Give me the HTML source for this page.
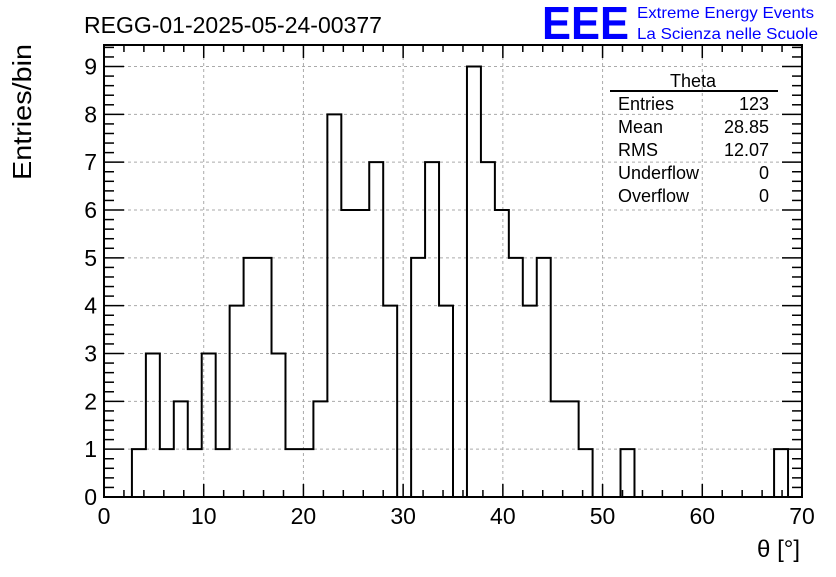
<!DOCTYPE html>
<html><head><meta charset="utf-8"><style>
body{margin:0;background:#fff}
svg text{font-family:"Liberation Sans",sans-serif}
</style></head><body>
<svg width="836" height="572" viewBox="0 0 836 572">
<rect width="836" height="572" fill="#fff"/>
<g id="grid"></g>
<g id="hist"></g>
<g id="axes"></g>
<text x="84" y="33" font-size="23">REGG-01-2025-05-24-00377</text>
<text x="542" y="39" font-size="46" font-weight="bold" fill="#0000ff" textLength="87" lengthAdjust="spacingAndGlyphs">EEE</text>
<text x="637" y="18" font-size="16" fill="#0000ff" textLength="177" lengthAdjust="spacingAndGlyphs">Extreme Energy Events</text>
<text x="637" y="39" font-size="16" fill="#0000ff" textLength="181" lengthAdjust="spacingAndGlyphs">La Scienza nelle Scuole</text>
<text transform="translate(31,180) rotate(-90)" font-size="26" textLength="136" lengthAdjust="spacingAndGlyphs">Entries/bin</text>
<text x="800" y="557" font-size="24" text-anchor="end">θ [°]</text>
<g font-size="18">
<text x="693" y="87" text-anchor="middle">Theta</text>
<line x1="610" y1="91" x2="778" y2="91" stroke="#000" stroke-width="2"/>
<text x="618" y="110">Entries</text><text x="769" y="110" text-anchor="end">123</text>
<text x="618" y="133">Mean</text><text x="769" y="133" text-anchor="end">28.85</text>
<text x="618" y="156">RMS</text><text x="769" y="156" text-anchor="end">12.07</text>
<text x="618" y="179">Underflow</text><text x="769" y="179" text-anchor="end">0</text>
<text x="618" y="202">Overflow</text><text x="769" y="202" text-anchor="end">0</text>
</g>
</svg>
<script>
const binCounts=[0,0,1,3,1,2,1,3,1,4,5,5,3,1,1,2,8,6,6,7,4,0,5,7,4,0,9,7,6,5,4,5,2,2,1,0,0,1,0,0,0,0,0,0,0,0,0,0,1,0];
const xTicks=[0,10,20,30,40,50,60,70];
const yTicks=[0,1,2,3,4,5,6,7,8,9];
const xMin=0,xMax=70,yMin=0,yMax=9.45;
const L=104,R=802,T=45,B=497;
const NS='http://www.w3.org/2000/svg';
function sx(v){return L+(v-xMin)/(xMax-xMin)*(R-L);}
function sy(v){return B-(v-yMin)/(yMax-yMin)*(B-T);}
function mk(tag,attrs,parent){const e=document.createElementNS(NS,tag);for(const k in attrs)e.setAttribute(k,attrs[k]);parent.appendChild(e);return e;}
const grid=document.getElementById('grid'),axes=document.getElementById('axes'),hist=document.getElementById('hist');
xTicks.forEach(v=>{if(v>xMin&&v<xMax){const l=mk('line',{x1:sx(v),x2:sx(v),y1:T,y2:B,stroke:'#aaa','stroke-dasharray':'3,3'},grid);

}});
yTicks.forEach(v=>{if(v>yMin){const l=mk('line',{x1:L,x2:R,y1:sy(v),y2:sy(v),stroke:'#aaa','stroke-dasharray':'3,3'},grid);

}});
const bw=(xMax-xMin)/binCounts.length;
let d='M'+sx(xMin)+','+sy(0);
binCounts.forEach((c,i)=>{d+=' L'+sx(xMin+i*bw)+','+sy(c)+' L'+sx(xMin+(i+1)*bw)+','+sy(c);});
d+=' L'+sx(xMax)+','+sy(0);
const p=mk('path',{d:d,fill:'none',stroke:'#000','stroke-width':2},hist);


const fr=mk('rect',{x:L,y:T,width:R-L,height:B-T,fill:'none',stroke:'#000','stroke-width':2},axes);


for(let v=xMin;v<=xMax+1e-9;v+=2){const maj=Math.abs(v%10)<1e-9;const len=maj?13:7;
mk('line',{x1:sx(v),x2:sx(v),y1:B,y2:B-len,stroke:'#000','stroke-width':1.5},axes);
mk('line',{x1:sx(v),x2:sx(v),y1:T,y2:T+len,stroke:'#000','stroke-width':1.5},axes);}
for(let v=0;v<=yMax;v+=0.2){const maj=Math.abs(v-Math.round(v))<1e-6;const len=maj?20:10;
mk('line',{x1:L,x2:L+len,y1:sy(v),y2:sy(v),stroke:'#000','stroke-width':1.5},axes);
mk('line',{x1:R,x2:R-len,y1:sy(v),y2:sy(v),stroke:'#000','stroke-width':1.5},axes);}
xTicks.forEach(v=>{const t=mk('text',{x:sx(v),y:B+27,'font-size':23,'text-anchor':'middle'},axes);t.textContent=v;

});
yTicks.forEach(v=>{const t=mk('text',{x:L-7,y:sy(v)+8,'font-size':23,'text-anchor':'end'},axes);t.textContent=v;

});
</script>
</body></html>
